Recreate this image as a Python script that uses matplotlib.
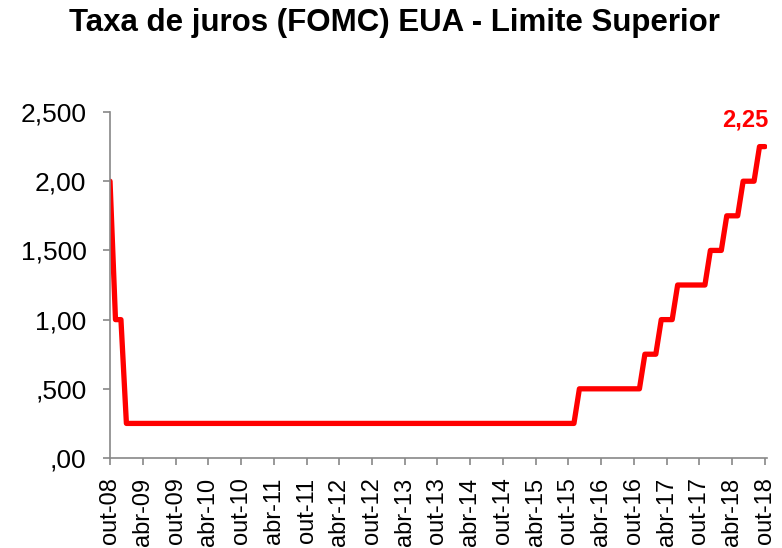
import numpy as np
import matplotlib.pyplot as plt

plt.rcParams['font.family'] = ['Liberation Sans', 'DejaVu Sans']

# monthly upper limit of the FOMC target rate, out-08 .. out-18
fase_corte = [2.00, 1.00, 1.00]
fase_zero = [0.25] * 83
fase_alta = ([0.50] * 12 + [0.75] * 3 + [1.00] * 3 + [1.25] * 6 +
             [1.50] * 3 + [1.75] * 3 + [2.00] * 3 + [2.25] * 2)
taxa = fase_corte + fase_zero + fase_alta

anos = list(range(8, 19))
xlabels = []
for a in anos:
    xlabels.append('out-%02d' % a)
    if a < 18:
        xlabels.append('abr-%02d' % (a + 1))

yticks = [0, 0.5, 1.0, 1.5, 2.0, 2.5]
ylabels = [',00', ',500', '1,00', '1,500', '2,00', '2,500']

fig = plt.figure(figsize=(7.82, 5.48), dpi=100)
ax = fig.add_axes([0.1407, 0.1642, 0.981 - 0.1407, 0.7956 - 0.1642])

x = np.arange(len(taxa))
ax.plot(x, taxa, color='#ff0000', linewidth=3.8, solid_capstyle='round')
ax.text(x[-1] - 3.7, taxa[-1] + 0.19, '2,25', color='#ff0000', fontsize=17,
        fontweight='bold', ha='center', va='center')

ax.set_xlim(0, 120.4)
ax.set_ylim(0, 2.5)
ax.set_xticks(np.arange(0, 121, 6))
ax.set_xticklabels(xlabels, rotation=90, fontsize=17)
ax.set_yticks(yticks)
ax.set_yticklabels(ylabels, fontsize=19)
ax.tick_params(axis='both', color='#888888', length=5, width=1.2)
ax.tick_params(axis='x', pad=9)
ax.tick_params(axis='y', pad=12)

for s in ['top', 'right']:
    ax.spines[s].set_visible(False)
for s in ['left', 'bottom']:
    ax.spines[s].set_color('#888888')
    ax.spines[s].set_linewidth(1.2)

fig.text(0.505, 0.958, 'Taxa de juros (FOMC) EUA - Limite Superior',
         fontsize=22.5, fontweight='bold', ha='center', va='center')

plt.savefig('out.png', dpi=100)
